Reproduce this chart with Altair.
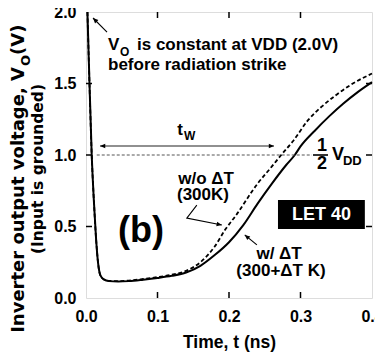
import math
import altair as alt
import pandas as pd

# ---------------- data ----------------
t_solid = [0.002, 0.004, 0.008, 0.011, 0.014, 0.017, 0.020, 0.025, 0.032, 0.045, 0.06, 0.08,
           0.10, 0.12, 0.14, 0.16, 0.18, 0.20, 0.22, 0.24, 0.26, 0.28, 0.292, 0.30, 0.32,
           0.34, 0.36, 0.38, 0.40]
v_solid = [2.0, 1.65, 1.0, 0.68, 0.42, 0.24, 0.16, 0.13, 0.118, 0.115, 0.118, 0.128,
           0.14, 0.155, 0.178, 0.225, 0.30, 0.39, 0.51, 0.66, 0.80, 0.93, 1.0, 1.06, 1.17,
           1.27, 1.36, 1.44, 1.51]
t_dash = [0.002, 0.004, 0.008, 0.011, 0.014, 0.017, 0.020, 0.025, 0.032, 0.045, 0.06, 0.08,
          0.10, 0.12, 0.14, 0.16, 0.18, 0.195, 0.21, 0.24, 0.26, 0.273, 0.29, 0.31, 0.33,
          0.35, 0.37, 0.40]
v_dash = [2.0, 1.65, 1.0, 0.68, 0.42, 0.24, 0.16, 0.13, 0.12, 0.118, 0.122, 0.133,
          0.146, 0.163, 0.19, 0.25, 0.36, 0.48, 0.58, 0.80, 0.92, 1.0, 1.10, 1.24, 1.34,
          1.42, 1.49, 1.57]

x_tick_values = [0.0, 0.1, 0.2, 0.3, 0.4]
y_tick_values = [0.0, 0.5, 1.0, 1.5, 2.0]
inner_x_ticks = [0.1, 0.2, 0.3]
inner_y_ticks = [0.5, 1.0, 1.5]

# annotation texts: label, t, v, font size
left_texts = [("V", 0.0308, 1.769, 17), ("O", 0.0476, 1.720, 12),
              ("is constant at VDD (2.0V)", 0.0713, 1.769, 17),
              ("before radiation strike", 0.0308, 1.629, 17),
              ("W", 0.137, 1.133, 12), ("V", 0.344, 1.0, 18), ("DD", 0.3594, 0.958, 13)]
center_texts = [("t", 0.1315, 1.175, 17), ("1", 0.330, 1.063, 18), ("2", 0.330, 0.937, 18),
                ("w/o ΔT", 0.168, 0.832, 17), ("(300K)", 0.1636, 0.720, 17),
                ("w/ ΔT", 0.270, 0.308, 17), ("(300+ΔT K)", 0.2727, 0.189, 17),
                ("(b)", 0.0769, 0.469, 36)]
let_label = ["LET 40"]
let_box_t = [0.2685, 0.390]
let_box_v = [0.4825, 0.685]

ytitle_right = [("Inverter output voltage, V", -0.0937, 1.615, 18)]
ytitle_left = [("O", -0.0840, 1.622, 13), ("(V)", -0.0937, 1.70, 18)]
ytitle_center = [("(Input is grounded)", -0.0671, 0.902, 15.5)]

half_vdd_v = 1.0
half_dash_t = [0.015, 0.316]
frac_bar_t = [0.3175, 0.3385]
tw_t = [0.0196, 0.263]
tw_v = 1.063

# arrows: list of polylines (t, v) ending at the head
arrows = {
    "vo": [(0.0294, 1.860), (0.0098, 1.958)],
    "wo": [(0.155, 0.650), (0.141, 0.559), (0.190, 0.510)],
    "w": [(0.239, 0.371), (0.222, 0.441)],
}

# ---------------- chart ----------------
W, H = 286, 286
FONT = "Liberation Sans"
TFONT = "DejaVu Sans"
PX_T = W / 0.4
PX_V = H / 2.0

xs = alt.Scale(domain=[0, 0.4], nice=False, zero=False)
ys = alt.Scale(domain=[0, 2.0], nice=False, zero=False)

x_axis = alt.Axis(values=x_tick_values, format=".1f", labelFont=FONT, labelFontSize=16,
                  labelFontWeight="bold", labelColor="black", labelFlush=False,
                  ticks=False, tickSize=0, domain=False, grid=False, labelPadding=10,
                  title="Time, t (ns)", titleFont=FONT, titleFontSize=17.5,
                  titleFontWeight="bold", titleColor="black", titlePadding=9)
y_axis = alt.Axis(values=y_tick_values, format=".1f", labelFont=FONT, labelFontSize=16,
                  labelFontWeight="bold", labelColor="black", ticks=False, tickSize=0,
                  domain=False, grid=False, labelPadding=10, title=None)

def X(field="t"):
    return alt.X(f"{field}:Q", scale=xs, axis=x_axis)

def Y(field="v"):
    return alt.Y(f"{field}:Q", scale=ys, axis=y_axis)

df_s = pd.DataFrame({"t": t_solid, "v": v_solid})
df_d = pd.DataFrame({"t": t_dash, "v": v_dash})

dashed_curve = alt.Chart(df_d).mark_line(color="black", strokeWidth=1.8, strokeDash=[4, 2.5],
                                          interpolate="monotone").encode(x=X(), y=Y())
solid_curve = alt.Chart(df_s).mark_line(color="black", strokeWidth=2,
                                         interpolate="monotone").encode(x=X(), y=Y())

half_line = alt.Chart(pd.DataFrame({"t": [half_dash_t[0]], "t2": [half_dash_t[1]],
                                    "v": [half_vdd_v]})).mark_rule(
    color="#555", strokeWidth=1, strokeDash=[3, 2]).encode(x=X(), x2="t2:Q", y=Y())
frac_bar = alt.Chart(pd.DataFrame({"t": [frac_bar_t[0]], "t2": [frac_bar_t[1]],
                                   "v": [half_vdd_v]})).mark_rule(
    color="black", strokeWidth=1.6).encode(x=X(), x2="t2:Q", y=Y())
tw_line = alt.Chart(pd.DataFrame({"t": [tw_t[0]], "t2": [tw_t[1]], "v": [tw_v]})).mark_rule(
    color="#222", strokeWidth=1.2).encode(x=X(), x2="t2:Q", y=Y())

# arrow shafts and heads
rows, heads = [], []
for name, pts in arrows.items():
    for i, (t, v) in enumerate(pts):
        rows.append({"name": name, "i": i, "t": t, "v": v})
    (t0, v0), (t1, v1) = pts[-2], pts[-1]
    dx = (t1 - t0) * PX_T
    dy = -(v1 - v0) * PX_V
    heads.append({"t": t1, "v": v1, "ang": math.degrees(math.atan2(dx, -dy)) % 360})
heads.append({"t": tw_t[0], "v": tw_v, "ang": 270.0})
heads.append({"t": tw_t[1], "v": tw_v, "ang": 90.0})

shafts = alt.Chart(pd.DataFrame(rows)).mark_line(color="black", strokeWidth=1.1).encode(
    x=X(), y=Y(), detail="name:N", order="i:Q")
head_marks = alt.Chart(pd.DataFrame(heads)).mark_point(
    shape="M-0.45,1 L0,0 L0.45,1 Z", filled=True, color="black", size=110, opacity=1).encode(
    x=X(), y=Y(), angle=alt.Angle("ang:Q", scale=None))

# inward ticks
tick_b = alt.Chart(pd.DataFrame({"t": inner_x_ticks})).mark_rule(
    color="black", strokeWidth=1.5).encode(x=X(), y=alt.value(H), y2=alt.value(H - 6))
tick_t = alt.Chart(pd.DataFrame({"t": inner_x_ticks})).mark_rule(
    color="black", strokeWidth=1.5).encode(x=X(), y=alt.value(0), y2=alt.value(6))
tick_l = alt.Chart(pd.DataFrame({"v": inner_y_ticks})).mark_rule(
    color="black", strokeWidth=1.5).encode(y=Y(), x=alt.value(0), x2=alt.value(6))
tick_r = alt.Chart(pd.DataFrame({"v": inner_y_ticks})).mark_rule(
    color="black", strokeWidth=1.5).encode(y=Y(), x=alt.value(W), x2=alt.value(W - 6))

def text_df(items):
    return pd.DataFrame([{"label": a, "t": b, "v": c, "fs": d} for a, b, c, d in items])

def text_layer(items, align, angle=0, color="black", font=FONT):
    return alt.Chart(text_df(items)).mark_text(
        font=font, fontWeight="bold", align=align, baseline="middle", angle=angle,
        color=color).encode(x=X(), y=Y(), text="label:N",
                            size=alt.Size("fs:Q", scale=None))

let_box = alt.Chart(pd.DataFrame({"t": [let_box_t[0]], "t2": [let_box_t[1]],
                                  "v": [let_box_v[0]], "v2": [let_box_v[1]]})).mark_rect(
    color="black").encode(x=X(), x2="t2:Q", y=Y(), y2="v2:Q")
let_text = text_layer([(let_label[0], (let_box_t[0] + let_box_t[1]) / 2,
                        (let_box_v[0] + let_box_v[1]) / 2, 18)], "center", color="white")

chart = alt.layer(
    dashed_curve, solid_curve, half_line, frac_bar, tw_line, shafts, head_marks,
    tick_b, tick_t, tick_l, tick_r,
    text_layer(left_texts, "left"), text_layer(center_texts, "center"),
    let_box, let_text,
    text_layer(ytitle_right, "right", 270, font=TFONT),
    text_layer(ytitle_left, "left", 270, font=TFONT),
    text_layer(ytitle_center, "center", 270, font=TFONT),
).properties(
    width=W, height=H,
    autosize=alt.AutoSizeParams(type="none"),
    padding={"left": 78, "top": 4, "right": 3, "bottom": 57},
).configure_view(stroke="black", strokeWidth=2.2).configure(background="white")

chart.save("out.html", embed_options={"renderer": "svg", "actions": False})
